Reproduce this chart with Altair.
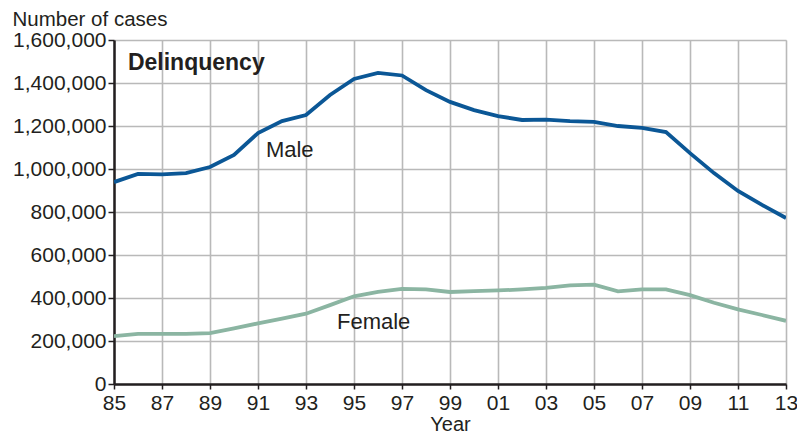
import altair as alt
import pandas as pd

years = list(range(1985, 2014))
male = [939000, 977000, 975000, 981000, 1009000, 1065000, 1167000, 1223000, 1251000,
        1344000, 1419000, 1447000, 1435000, 1367000, 1312000, 1274000, 1246000, 1228000,
        1230000, 1223000, 1219000, 1200000, 1191000, 1172000, 1074000, 981000, 898000,
        833000, 772000]
female = [223000, 233000, 233000, 233000, 237000, 259000, 282000, 304000, 327000,
          367000, 408000, 428000, 442000, 440000, 428000, 432000, 435000, 440000,
          447000, 459000, 462000, 431000, 440000, 440000, 413000, 378000, 347000,
          321000, 294000]

series_names = ["Male", "Female"]
series_colors = ["#0b5796", "#8bb5a2"]

label_text = ["Male", "Female"]
label_year = [1991.33, 1994.29]
label_value = [1055000, 256000]

title_text = ["Delinquency"]
title_year = [1985.58]
title_value = [1460000]

y_ticks = list(range(0, 1600001, 200000))

TEXT = "#231f20"
FONT = "Liberation Sans"

rows = []
for y, m, f in zip(years, male, female):
    rows.append({"year": y, "cases": m, "sex": "Male"})
    rows.append({"year": y, "cases": f, "sex": "Female"})
df = pd.DataFrame(rows)

lab_df = pd.DataFrame({"text": label_text, "year": label_year, "cases": label_value})
ttl_df = pd.DataFrame({"text": title_text, "year": title_year, "cases": title_value})

x_scale = alt.Scale(domain=[1985, 2013], nice=False, zero=False)
y_scale = alt.Scale(domain=[0, 1600000], nice=False)

x_axis = alt.Axis(
    values=years,
    labelExpr="datum.value % 2 == 1 ? substring(toString(datum.value), 2, 4) : ''",
    grid=True, gridColor="#b9b9b9", gridWidth=1.6,
    domainColor=TEXT, domainWidth=2.5,
    tickColor=TEXT, tickWidth=1.5, tickSize=5,
    labelFont=FONT, labelFontSize=21, labelColor=TEXT, labelPadding=3,
    labelOverlap=False, labelFlush=False,
    title="Year", titleFont=FONT, titleFontSize=20, titleFontWeight="normal",
    titleColor=TEXT, titleBaseline="alphabetic", titleY=46,
)
y_axis = alt.Axis(
    values=y_ticks,
    labelExpr="format(datum.value, ',')",
    grid=True, gridColor="#b9b9b9", gridWidth=1.6,
    domainColor=TEXT, domainWidth=2.5,
    tickColor=TEXT, tickWidth=1.5, tickSize=6,
    labelFont=FONT, labelFontSize=21, labelColor=TEXT, labelPadding=2,
    title="Number of cases", titleFont=FONT, titleFontSize=20.5,
    titleFontWeight="normal", titleColor=TEXT, titleAngle=0,
    titleAlign="left", titleBaseline="alphabetic", titleX=-102, titleY=-15,
)

lines = alt.Chart(df).mark_line(strokeWidth=3.8, clip=True).encode(
    x=alt.X("year:Q", scale=x_scale, axis=x_axis),
    y=alt.Y("cases:Q", scale=y_scale, axis=y_axis),
    color=alt.Color("sex:N", scale=alt.Scale(domain=series_names, range=series_colors), legend=None),
    detail="sex:N",
)

labels = alt.Chart(lab_df).mark_text(
    font=FONT, fontSize=22, color=TEXT, align="left", baseline="alphabetic"
).encode(
    x=alt.X("year:Q", scale=x_scale),
    y=alt.Y("cases:Q", scale=y_scale),
    text="text:N",
)

ttl = alt.Chart(ttl_df).mark_text(
    font=FONT, fontSize=23, fontWeight="bold", color=TEXT, align="left", baseline="alphabetic"
).encode(
    x=alt.X("year:Q", scale=x_scale),
    y=alt.Y("cases:Q", scale=y_scale),
    text="text:N",
)

chart = alt.layer(lines, labels, ttl).properties(
    width=672, height=344,
    autosize=alt.AutoSizeParams(type="none"),
    padding={"left": 106, "top": 32, "right": 11, "bottom": 50},
).configure_view(stroke=None).configure(background="white")

chart.save("out.html", embed_options={"renderer": "svg", "actions": False})
